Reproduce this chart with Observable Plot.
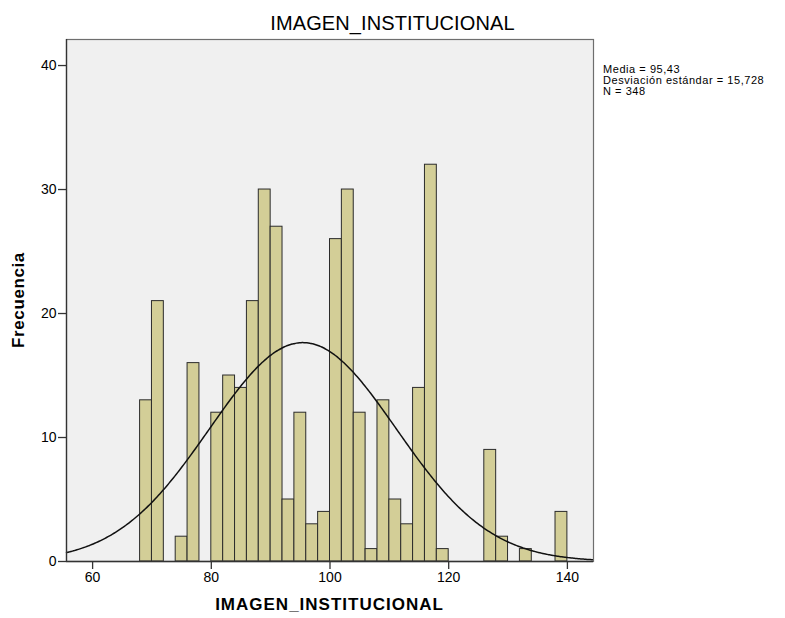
<!DOCTYPE html>
<html>
<head>
<meta charset="utf-8">
<script src="https://cdn.jsdelivr.net/npm/d3@7"></script>
<script src="https://cdn.jsdelivr.net/npm/@observablehq/plot@0.6"></script>
<style>
  html, body { margin: 0; padding: 0; background: #ffffff; }
  #wrap { position: relative; width: 785px; height: 618px; font-family: "Liberation Sans", Arial, sans-serif; }
  #wrap svg { position: absolute; left: 0; top: 0; }
  .lbl { position: absolute; color: #000; white-space: nowrap; }
  #title { left: 0; width: 785px; text-align: center; top: 12px; font-size: 20px; letter-spacing: 0.1px; }
  #xlabel { left: 66px; width: 527px; text-align: center; top: 595px; font-size: 17px; font-weight: bold; letter-spacing: 1px; }
  #ylabel { left: 19px; top: 300px; font-size: 17px; font-weight: bold; letter-spacing: 0.6px; transform: translate(-50%, -50%) rotate(-90deg); }
  #stats { left: 603px; top: 64px; font-size: 11px; line-height: 11px; letter-spacing: 0.55px; }
</style>
</head>
<body>
<div id="wrap">
  <div class="lbl" id="title">IMAGEN_INSTITUCIONAL</div>
  <div class="lbl" id="xlabel">IMAGEN_INSTITUCIONAL</div>
  <div class="lbl" id="ylabel">Frecuencia</div>
  <div class="lbl" id="stats"></div>
</div>
<script>
// Histogram bins (width 2) of IMAGEN_INSTITUCIONAL, lower edges and counts
const binStart = [68, 70, 72, 74, 76, 78, 80, 82, 84, 86, 88, 90, 92, 94, 96, 98,
                  100, 102, 104, 106, 108, 110, 112, 114, 116, 118, 120, 122, 124,
                  126, 128, 130, 132, 134, 136, 138];
const counts   = [13, 21, 0, 2, 16, 0, 12, 15, 14, 21, 30, 27, 5, 12, 3, 4,
                  26, 30, 12, 1, 13, 5, 3, 14, 32, 1, 0, 0, 0,
                  9, 2, 0, 1, 0, 0, 4];
const binWidth = 2;

// Summary statistics
const media = 95.43;
const desviacion = 15.728;
const n = 348;

const xTicks = [60, 80, 100, 120, 140];
const yTicks = [0, 10, 20, 30, 40];

const bins = binStart.map((x0, i) => ({x1: x0, x2: x0 + binWidth, count: counts[i]}))
  .filter(d => d.count > 0);

// Fitted normal curve scaled to the histogram's frequency
const xDomain = [55.6, 144.4];
const curve = d3.range(xDomain[0], xDomain[1] + 0.01, 0.25).map(x => {
  const z = (x - media) / desviacion;
  return {x, y: n * binWidth * Math.exp(-0.5 * z * z) / (desviacion * Math.sqrt(2 * Math.PI))};
});

const fmt = v => String(v).replace(".", ",");
document.getElementById("stats").innerHTML =
  `Media = ${fmt(media)}<br>Desviación estándar = ${fmt(desviacion)}<br>N = ${n}`;

const chart = Plot.plot({
  width: 785,
  height: 618,
  marginLeft: 66,
  marginRight: 192,
  marginTop: 39,
  marginBottom: 57,
  style: {fontFamily: "'Liberation Sans', Arial, sans-serif", background: "transparent", color: "#000"},
  x: {domain: xDomain, label: null},
  y: {domain: [0, 42.1], label: null},
  marks: [
    Plot.frame({fill: "#f0f0f0", stroke: null}),
    Plot.rectY(bins, {x1: "x1", x2: "x2", y: "count", fill: "#d3ce97", stroke: "#2b2b2b", strokeWidth: 1, insetLeft: 0, insetRight: 0}),
    Plot.line(curve, {x: "x", y: "y", stroke: "#111", strokeWidth: 1.5, curve: "basis"}),
    Plot.frame({stroke: "#6e6e6e", strokeWidth: 1.2}),
    Plot.axisX(xTicks, {tickSize: 8, tickPadding: 3, fontSize: 14, stroke: "#333", strokeWidth: 1.3, label: null}),
    Plot.axisY(yTicks, {tickSize: 8, tickPadding: 2, fontSize: 14, stroke: "#333", strokeWidth: 1.3, label: null}),
    Plot.ruleX([xDomain[0]], {stroke: "#333", strokeWidth: 1.3}),
    Plot.ruleY([0], {stroke: "#333", strokeWidth: 1.3})
  ]
});
document.getElementById("wrap").prepend(chart);
</script>
</body>
</html>
